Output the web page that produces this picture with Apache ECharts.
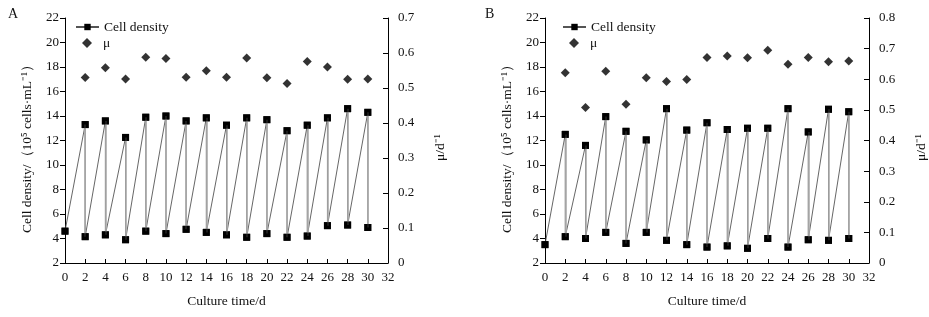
<!DOCTYPE html>
<html>
<head>
<meta charset="utf-8">
<script src="https://cdn.jsdelivr.net/npm/echarts@6/dist/echarts.min.js"></script>
<style>html,body{margin:0;padding:0;background:#fff;}</style>
</head>
<body>
<div id="main" style="width:929px;height:317px;"></div>
<script>
// culture days (sampling every 2 d)
var days = [0, 2, 4, 6, 8, 10, 12, 14, 16, 18, 20, 22, 24, 26, 28, 30];

// panel A: density before dilution (days 2..30) and after dilution (days 0..30)
var highA = [13.3, 13.6, 12.25, 13.9, 14.0, 13.6, 13.85, 13.25, 13.85, 13.7, 12.8, 13.25, 13.85, 14.6, 14.3];
var lowA = [4.6, 4.15, 4.3, 3.9, 4.6, 4.4, 4.75, 4.5, 4.3, 4.1, 4.4, 4.1, 4.2, 5.05, 5.1, 4.9];
var muA = [0.530, 0.558, 0.526, 0.588, 0.584, 0.531, 0.549, 0.531, 0.586, 0.529, 0.513, 0.576, 0.560, 0.525, 0.526];

// panel B
var highB = [12.5, 11.6, 13.95, 12.75, 12.05, 14.6, 12.85, 13.45, 12.9, 13.0, 13.0, 14.6, 12.7, 14.55, 14.35];
var lowB = [3.5, 4.15, 4.0, 4.5, 3.6, 4.5, 3.85, 3.5, 3.3, 3.4, 3.2, 4.0, 3.3, 3.9, 3.85, 4.0];
var muB = [0.621, 0.508, 0.626, 0.518, 0.605, 0.593, 0.599, 0.671, 0.676, 0.670, 0.695, 0.649, 0.671, 0.657, 0.660];

var FONT = 'Liberation Serif';

function path(high, low) {
  var p = [];
  for (var i = 0; i < days.length; i++) {
    if (i > 0) p.push([days[i], high[i - 1]]);
    p.push([days[i], low[i]]);
  }
  return p;
}
function drops(high, low) {
  var d = [];
  for (var i = 1; i < days.length; i++) {
    d.push({ coords: [[days[i], high[i - 1]], [days[i], low[i]]] });
  }
  return d;
}
function muPts(mu) {
  var r = [];
  for (var i = 1; i < days.length; i++) r.push([days[i], mu[i - 1]]);
  return r;
}

var lbl = { fontFamily: FONT, fontSize: 13, color: '#111' };
var axLine = { show: true, lineStyle: { color: '#000', width: 1 } };

function xAx(g) {
  return {
    type: 'value', gridIndex: g, min: 0, max: 32, interval: 2,
    name: 'Culture time/d', nameLocation: 'middle', nameGap: 31,
    nameTextStyle: { fontFamily: FONT, fontSize: 13.5, color: '#111' },
    axisLine: axLine, splitLine: { show: false },
    axisTick: { inside: true, length: 4, lineStyle: { color: '#000' } },
    axisLabel: Object.assign({ margin: 8 }, lbl)
  };
}
function yLeft(g) {
  return {
    type: 'value', gridIndex: g, min: 2, max: 22, interval: 2, position: 'left',
    name: 'Cell density/（10⁵ cells·mL⁻¹）', nameLocation: 'middle', nameGap: 31,
    nameRotate: 90,
    nameTextStyle: { fontFamily: FONT, fontSize: 13.5, color: '#111', padding: [0, 10, 0, 0] },
    axisLine: axLine, splitLine: { show: false },
    axisTick: { length: 5, lineStyle: { color: '#000' } },
    axisLabel: Object.assign({ margin: 6 }, lbl)
  };
}
function yRight(g, max) {
  return {
    type: 'value', gridIndex: g, min: 0, max: max, interval: 0.1, position: 'right',
    name: 'μ/d⁻¹', nameLocation: 'middle', nameGap: 45, nameRotate: 90,
    nameTextStyle: { fontFamily: FONT, fontSize: 13.5, color: '#111', padding: [0, 14, 0, 0] },
    axisLine: axLine, splitLine: { show: false },
    axisTick: { inside: true, length: 5, lineStyle: { color: '#000' } },
    axisLabel: Object.assign({ margin: 10, formatter: function (v) { return v === 0 ? '0' : v.toFixed(1); } }, lbl)
  };
}

function panelSeries(g, high, low, mu) {
  var pts = path(high, low);
  return [
    {
      name: 'Cell density', type: 'line', xAxisIndex: g, yAxisIndex: g * 2,
      data: pts, symbol: 'rect', symbolSize: 7, showSymbol: true,
      lineStyle: { color: '#555', width: 0.9 }, itemStyle: { color: '#000' },
      z: 2, animation: false
    },
    {
      name: 'drop', type: 'lines', coordinateSystem: 'cartesian2d',
      xAxisIndex: g, yAxisIndex: g * 2, data: drops(high, low),
      lineStyle: { color: '#aaa', width: 1.6, opacity: 1 }, z: 3, animation: false
    },
    {
      name: 'pts', type: 'scatter', xAxisIndex: g, yAxisIndex: g * 2,
      data: pts, symbol: 'rect', symbolSize: 7, itemStyle: { color: '#000' },
      z: 4, animation: false
    },
    {
      name: 'μ', type: 'scatter', xAxisIndex: g, yAxisIndex: g * 2 + 1,
      data: muPts(mu), symbol: 'diamond', symbolSize: 9, itemStyle: { color: '#000' },
      z: 4, animation: false
    }
  ];
}

function legends(x) {
  var ts = { fontFamily: FONT, fontSize: 13.5, color: '#111' };
  return [
    {
      left: x, top: 20, padding: 0, itemWidth: 23, itemHeight: 8,
      data: ['Cell density'], textStyle: ts, selectedMode: false
    },
    {
      left: x + 7, top: 36, padding: 0, itemWidth: 10, itemHeight: 10,
      data: [{ name: 'μ', icon: 'diamond' }],
      textStyle: Object.assign({ padding: [0, 0, 0, 6] }, ts), selectedMode: false
    }
  ];
}

var chart = echarts.init(document.getElementById('main'), null, { renderer: 'canvas' });
var option = {
  backgroundColor: '#fff',
  animation: false,
  textStyle: { fontFamily: FONT },
  grid: [
    { left: 65, right: 541, top: 18, bottom: 54 },
    { left: 545, right: 60, top: 18, bottom: 54 }
  ],
  legend: legends(75).concat(legends(562)),
  graphic: [
    { type: 'text', left: 8, top: 7, style: { text: 'A', font: '14px Liberation Serif', fill: '#111' } },
    { type: 'text', left: 485, top: 7, style: { text: 'B', font: '14px Liberation Serif', fill: '#111' } }
  ],
  xAxis: [xAx(0), xAx(1)],
  yAxis: [yLeft(0), yRight(0, 0.7), yLeft(1), yRight(1, 0.8)],
  series: panelSeries(0, highA, lowA, muA).concat(panelSeries(1, highB, lowB, muB))
};
chart.setOption(option);
</script>
</body>
</html>
